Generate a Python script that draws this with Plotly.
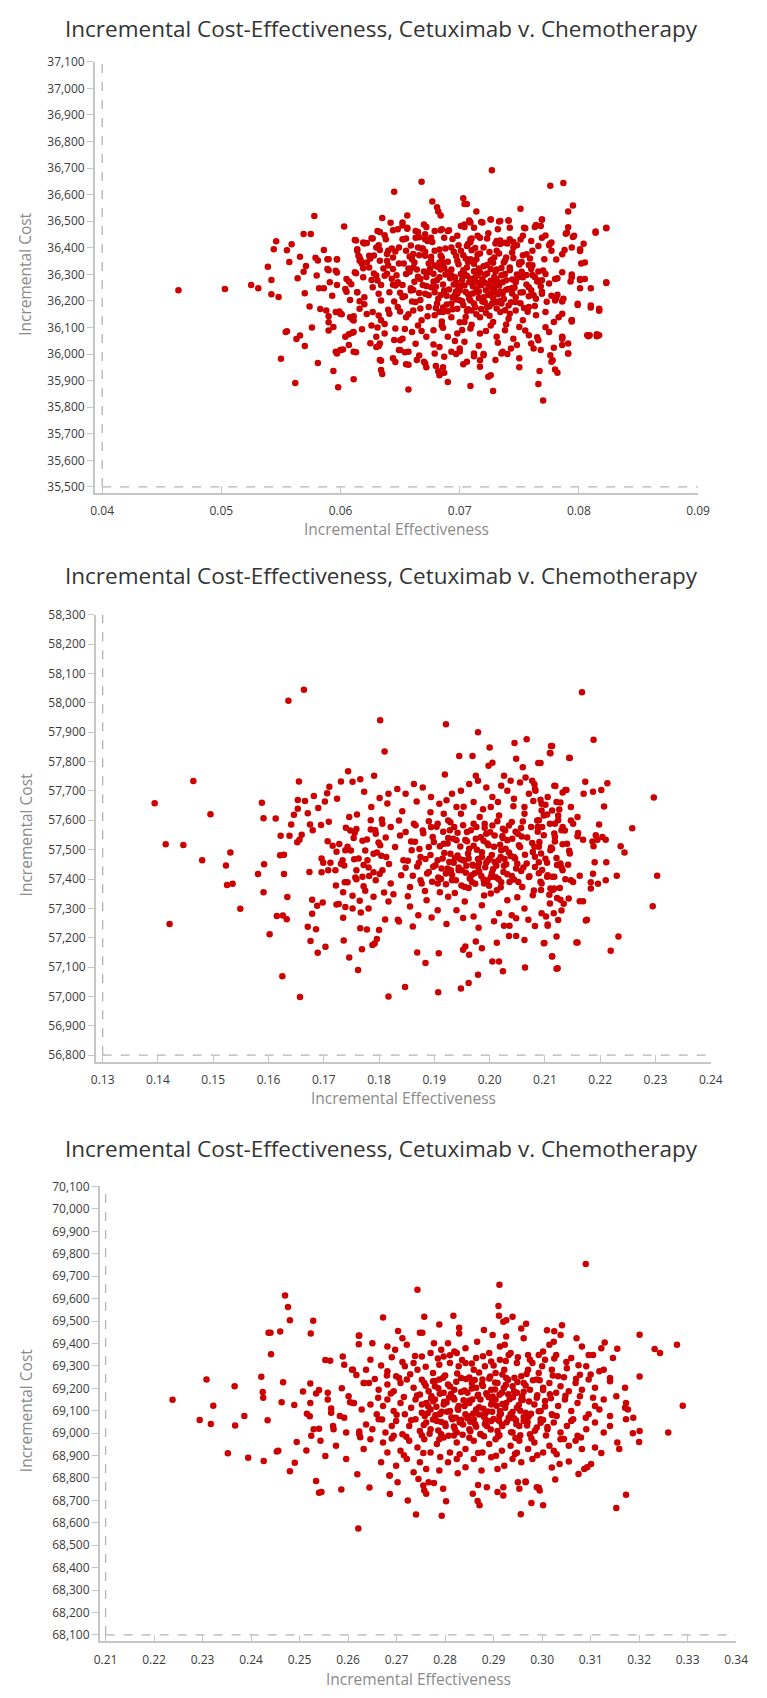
import plotly.graph_objects as go

W, H = 767, 1698
TITLE = "Incremental Cost-Effectiveness, Cetuximab v. Chemotherapy"
X_LABEL = "Incremental Effectiveness"
Y_LABEL = "Incremental Cost"

# ---------------- data ----------------
eff_ticks_1 = [0.04, 0.05, 0.06, 0.07, 0.08, 0.09]
cost_ticks_1 = [35500, 35600, 35700, 35800, 35900, 36000, 36100, 36200, 36300,
                36400, 36500, 36600, 36700, 36800, 36900, 37000, 37100]
eff_ticks_2 = [0.13, 0.14, 0.15, 0.16, 0.17, 0.18, 0.19, 0.20, 0.21, 0.22, 0.23, 0.24]
cost_ticks_2 = [56800, 56900, 57000, 57100, 57200, 57300, 57400, 57500, 57600,
                57700, 57800, 57900, 58000, 58100, 58200, 58300]
eff_ticks_3 = [0.21, 0.22, 0.23, 0.24, 0.25, 0.26, 0.27, 0.28, 0.29, 0.30,
               0.31, 0.32, 0.33, 0.34]
cost_ticks_3 = [68100, 68200, 68300, 68400, 68500, 68600, 68700, 68800, 68900,
                69000, 69100, 69200, 69300, 69400, 69500, 69600, 69700, 69800,
                69900, 70000, 70100]

# panel 1: (incremental effectiveness, incremental cost)
pts1 = [
    (0.0464,36240),(0.0503,36245),(0.0525,36260),(0.0531,36248),(0.0539,36329),(0.0542,36279),
    (0.0542,36225),(0.0548,36215),(0.0544,36395),(0.0546,36425),(0.0554,36083),(0.0555,36391),
    (0.0557,36347),(0.0559,36413),(0.0564,36285),(0.0566,36366),(0.0569,36452),(0.0575,36452),
    (0.0569,36310),(0.0570,36229),(0.0571,36332),(0.0574,36179),(0.0578,36520),(0.0579,36363),
    (0.0581,36352),(0.0580,36296),(0.0582,36248),(0.0586,36248),(0.0583,36170),(0.0588,36164),
    (0.0590,36142),(0.0586,36392),(0.0589,36357),(0.0590,36316),(0.0591,36270),(0.0597,36356),
    (0.0597,36307),(0.0597,36260),(0.0599,36160),(0.0601,36150),(0.0603,36480),(0.0605,36235),
    (0.0607,36273),(0.0608,36204),(0.0610,36138),(0.0611,36126),(0.0613,36428),(0.0614,36395),
    (0.0616,36365),(0.0617,36352),(0.0618,36340),(0.0613,36304),(0.0614,36233),(0.0620,36188),
    (0.0620,36416),(0.0625,36360),(0.0627,36435),(0.0628,36303),(0.0630,36296),(0.0632,36410),
    (0.0633,36392),(0.0633,36460),(0.0635,36512),(0.0634,36260),(0.0636,36322),(0.0639,36377),
    (0.0639,36350),(0.0640,36333),(0.0642,36494),(0.0643,36397),(0.0645,36611),(0.0644,36466),
    (0.0645,36198),(0.0647,36297),(0.0648,36266),(0.0650,36160),(0.0652,36484),(0.0652,36432),
    (0.0652,36260),(0.0655,36435),(0.0656,36472),(0.0656,36522),(0.0657,36322),(0.0659,36248),
    (0.0660,36198),(0.0665,36460),(0.0666,36440),(0.0666,36372),(0.0665,36291),(0.0668,36649),
    (0.0668,36397),(0.0671,36385),(0.0672,36478),(0.0674,36341),(0.0677,36574),(0.0677,36422),
    (0.0678,36273),(0.0680,36173),(0.0681,36553),(0.0682,36537),(0.0682,36329),(0.0684,36466),
    (0.0684,36522),(0.0685,36123),(0.0688,36397),(0.0691,36466),(0.0693,36297),(0.0696,36223),
    (0.0699,36410),(0.0700,36248),(0.0703,36587),(0.0704,36565),(0.0704,36478),(0.0705,36360),
    (0.0708,36503),(0.0710,36435),
    (0.0727,36692),(0.0776,36634),(0.0787,36644),(0.0795,36559),(0.0791,36537),(0.0751,36547),
    (0.0714,36537),(0.0706,36565),(0.0814,36457),(0.0823,36474),(0.0791,36477),(0.0789,36453),
    (0.0795,36441),(0.0804,36415),(0.0801,36388),(0.0788,36392),(0.0802,36341),(0.0794,36300),
    (0.0823,36268),(0.0801,36279),(0.0805,36283),(0.0793,36273),(0.0801,36248),(0.0810,36248),
    (0.0799,36185),(0.0810,36175),(0.0817,36163),(0.0794,36123),(0.0808,36067),(0.0815,36067),
    (0.0786,36058),(0.0769,36507),(0.0768,36482),(0.0763,36478),(0.0755,36474),(0.0741,36503),
    (0.0733,36499),(0.0726,36507),(0.0718,36497),(0.0782,36285),(0.0776,36416),(0.0775,36410),
    (0.0782,36223),(0.0781,36210),(0.0786,36198),(0.0775,36266),(0.0769,36235),(0.0765,36273),
    (0.0761,36298),(0.0758,36335),(0.0753,36372),(0.0748,36410),(0.0745,36422),(0.0740,36416),
    (0.0734,36428),(0.0730,36416),(0.0723,36435),(0.0715,36445),(0.0709,36422),
    (0.0550,35982),(0.0555,36086),(0.0562,35891),(0.0563,36057),(0.0566,36070),(0.0570,36030),
    (0.0581,35966),(0.0576,36100),(0.0590,36120),(0.0590,36089),(0.0594,35936),(0.0598,35875),
    (0.0597,36002),(0.0600,36015),(0.0602,36017),(0.0600,36152),(0.0607,36034),(0.0607,36075),
    (0.0610,36080),(0.0611,35905),(0.0613,36007),(0.0610,36130),(0.0611,36142),(0.0631,36100),
    (0.0632,36145),(0.0632,36030),(0.0633,36040),(0.0634,35940),(0.0635,35925),(0.0634,35975),
    (0.0646,35970),(0.0650,36052),(0.0650,36015),(0.0654,36007),(0.0655,35962),(0.0657,35960),
    (0.0657,35867),(0.0666,35995),(0.0671,35965),(0.0672,35950),(0.0680,35955),(0.0682,35935),
    (0.0683,35920),(0.0686,35950),(0.0687,35930),(0.0690,35895),(0.0697,36000),(0.0700,36010),
    (0.0703,35962),(0.0709,35880),(0.0712,35992),(0.0717,35952),(0.0717,35977),(0.0720,36000),
    (0.0724,35915),(0.0726,35920),(0.0728,35861),(0.0735,36002),(0.0740,36000),(0.0750,35950),
    (0.0762,36021),(0.0766,35887),(0.0767,35936),(0.0770,35825),(0.0776,35996),(0.0778,35977),
    (0.0780,35942),(0.0782,35930),(0.0786,36034),(0.0786,36062),(0.0791,36002),(0.0794,36127),
    (0.0809,36071),(0.0817,36071),(0.0817,36167),
    (0.0612,36429),(0.0619,36420),(0.0626,36436),(0.0631,36463),(0.0638,36432),(0.0648,36470),
    (0.0652,36495),(0.0656,36476),(0.0653,36432),(0.0663,36463),(0.0663,36438),(0.0670,36488),
    (0.0671,36451),(0.0671,36432),(0.0676,36438),(0.0679,36463),(0.0685,36470),(0.0687,36438),
    (0.0690,36463),(0.0698,36445),(0.0701,36482),(0.0704,36488),(0.0709,36495),(0.0709,36432),
    (0.0712,36476),(0.0717,36438),(0.0719,36495),(0.0726,36507),(0.0731,36426),(0.0732,36470),
    (0.0734,36501),(0.0741,36503),(0.0742,36476),(0.0742,36432),(0.0753,36445),(0.0754,36476),
    (0.0760,36426),(0.0764,36486),(0.0769,36507),(0.0769,36438),(0.0777,36420),(0.0790,36457),
    (0.0796,36445),(0.0814,36461),(0.0823,36476),
    (0.0590,36357),(0.0597,36357),(0.0614,36389),(0.0615,36370),(0.0616,36351),(0.0622,36345),
    (0.0624,36370),(0.0630,36401),(0.0633,36351),(0.0640,36389),(0.0644,36364),(0.0649,36401),
    (0.0655,36389),(0.0660,36357),(0.0665,36401),(0.0671,36370),(0.0676,36351),(0.0679,36389),
    (0.0683,36345),(0.0685,36364),(0.0693,36401),(0.0698,36351),(0.0701,36389),(0.0706,36407),
    (0.0709,36357),(0.0715,36376),(0.0720,36401),(0.0726,36351),(0.0731,36389),(0.0734,36414),
    (0.0739,36364),(0.0745,36401),(0.0750,36345),(0.0756,36376),(0.0761,36389),(0.0766,36407),
    (0.0771,36357),(0.0777,36389),(0.0786,36376),(0.0794,36401),(0.0801,36395),(0.0805,36345),
    (0.0589,36320),(0.0596,36314),(0.0605,36283),(0.0612,36308),(0.0619,36289),(0.0624,36326),
    (0.0631,36277),(0.0637,36295),(0.0644,36320),(0.0648,36270),(0.0655,36301),(0.0661,36326),
    (0.0667,36283),(0.0674,36308),(0.0679,36333),(0.0683,36289),(0.0690,36308),(0.0697,36270),
    (0.0701,36301),(0.0706,36326),(0.0713,36289),(0.0717,36308),(0.0720,36270),(0.0726,36320),
    (0.0731,36283),(0.0738,36301),(0.0742,36326),(0.0747,36270),(0.0753,36289),(0.0760,36320),
    (0.0766,36277),(0.0772,36301),(0.0780,36283),(0.0786,36308),(0.0794,36289),(0.0801,36283),
    (0.0823,36270),
    (0.0593,36220),(0.0604,36245),(0.0614,36233),(0.0620,36214),(0.0627,36252),(0.0634,36202),
    (0.0641,36233),(0.0646,36258),(0.0652,36214),(0.0659,36239),(0.0663,36196),(0.0671,36227),
    (0.0676,36252),(0.0682,36208),(0.0687,36239),(0.0694,36214),(0.0700,36239),(0.0704,36258),
    (0.0709,36202),(0.0715,36233),(0.0720,36214),(0.0726,36252),(0.0731,36196),(0.0736,36227),
    (0.0741,36245),(0.0747,36214),(0.0753,36233),(0.0758,36252),(0.0764,36208),(0.0769,36227),
    (0.0777,36220),(0.0780,36202),(0.0787,36208),(0.0799,36189),(0.0810,36183),(0.0817,36171),
    (0.0596,36158),(0.0600,36152),(0.0608,36139),(0.0616,36171),(0.0627,36158),(0.0634,36127),
    (0.0641,36152),(0.0648,36177),(0.0655,36139),(0.0661,36164),(0.0668,36127),(0.0674,36177),
    (0.0679,36146),(0.0686,36158),(0.0693,36139),(0.0698,36171),(0.0704,36121),(0.0710,36164),
    (0.0717,36139),(0.0723,36177),(0.0728,36121),(0.0734,36158),(0.0741,36133),(0.0747,36164),
    (0.0753,36127),(0.0758,36177),(0.0764,36146),(0.0772,36158),(0.0779,36121),(0.0786,36152),
    (0.0794,36127),
    (0.0594,36102),(0.0604,36065),(0.0611,36083),(0.0626,36108),(0.0630,36065),(0.0637,36077),
    (0.0646,36096),(0.0652,36058),(0.0660,36083),(0.0665,36108),(0.0672,36065),(0.0678,36090),
    (0.0685,36108),(0.0690,36065),(0.0698,36077),(0.0704,36046),(0.0709,36096),(0.0717,36077),
    (0.0726,36108),(0.0731,36065),(0.0738,36090),(0.0745,36058),(0.0750,36102),(0.0758,36071),
    (0.0766,36052),(0.0775,36083),(0.0786,36065),(0.0791,36040),(0.0807,36071),(0.0815,36075),
    (0.0596,36009),(0.0600,36015),(0.0611,36009),(0.0630,36027),(0.0633,35978),(0.0644,35984),
    (0.0649,36015),(0.0657,36009),(0.0664,35978),(0.0670,35971),(0.0679,36002),(0.0683,36027),
    (0.0687,35990),(0.0693,36009),(0.0700,36021),(0.0706,35971),(0.0712,36002),(0.0720,35996),
    (0.0730,35978),(0.0736,36009),(0.0743,36021),(0.0750,35984),(0.0760,36040),(0.0768,36015),
    (0.0777,35971),(0.0791,36002),
    (0.0681,36330),(0.0684,36318),(0.0688,36300),(0.0692,36285),(0.0695,36262),(0.0699,36250),
    (0.0702,36280),(0.0706,36295),(0.0708,36270),(0.0711,36255),(0.0714,36245),(0.0716,36268),
    (0.0719,36282),(0.0722,36240),(0.0724,36262),(0.0727,36230),(0.0729,36290),(0.0733,36258),
    (0.0736,36270),(0.0739,36242),(0.0744,36228),(0.0746,36250),(0.0681,36190),(0.0686,36175),
    (0.0689,36220),(0.0693,36190),(0.0697,36205),(0.0703,36185),(0.0707,36225),(0.0712,36190),
    (0.0718,36170),(0.0721,36195),(0.0725,36180),(0.0728,36210),(0.0732,36225),(0.0735,36190),
    (0.0738,36165),(0.0743,36195),(0.0672,36290),(0.0675,36320),(0.0669,36260),(0.0666,36230),
    (0.0662,36345),(0.0658,36310),(0.0712,36340),(0.0716,36322),(0.0723,36335),(0.0727,36355),
    (0.0731,36318),(0.0737,36345),(0.0748,36300),(0.0752,36310),(0.0756,36262),(0.0760,36240),
    (0.0763,36290),(0.0768,36255),(0.0700,36120),(0.0705,36140),(0.0710,36110),(0.0714,36150),
    (0.0622,36418),(0.0637,36447),(0.0659,36409),(0.0673,36426),(0.0694,36433),(0.0707,36414),
    (0.0724,36455),(0.0738,36419),(0.0751,36431),(0.0772,36446),(0.0628,36371),(0.0646,36386),
    (0.0661,36377),(0.0683,36394),(0.0697,36369),(0.0713,36399),(0.0729,36364),(0.0744,36382),
    (0.0759,36360),(0.0781,36356),(0.0619,36323),(0.0639,36302),(0.0653,36341),(0.0670,36311),
    (0.0686,36344),(0.0703,36316),(0.0721,36299),(0.0735,36324),(0.0750,36337),(0.0770,36315),
    (0.0609,36263),(0.0626,36279),(0.0644,36261),(0.0662,36272),(0.0680,36253),(0.0697,36236),
    (0.0713,36273),(0.0730,36263),(0.0744,36281),(0.0762,36221),(0.0616,36199),(0.0632,36227),
    (0.0650,36231),(0.0667,36204),(0.0684,36222),(0.0700,36203),(0.0716,36211),(0.0734,36200),
    (0.0751,36191),(0.0773,36197),(0.0622,36151),(0.0640,36167),(0.0657,36150),(0.0673,36142),
    (0.0690,36161),(0.0707,36169),(0.0725,36144),(0.0742,36152),(0.0757,36159),(0.0783,36139),
    (0.0618,36093),(0.0637,36113),(0.0654,36094),(0.0668,36087),(0.0686,36099),(0.0702,36091),
    (0.0722,36087),(0.0739,36111),(0.0755,36089),(0.0772,36101),(0.0625,36041),(0.0645,36053),
    (0.0663,36039),(0.0678,36036),(0.0696,36049),(0.0716,36031),(0.0732,36043),(0.0748,36034),
    (0.0765,36063),(0.0779,36024),
    (0.0643,36284),(0.0649,36341),(0.0654,36218),(0.0658,36367),(0.0661,36241),(0.0664,36318),
    (0.0667,36172),(0.0669,36397),(0.0672,36256),(0.0674,36221),(0.0676,36366),(0.0678,36302),
    (0.0679,36233),(0.0681,36279),(0.0683,36158),(0.0684,36371),(0.0686,36262),(0.0687,36325),
    (0.0689,36187),(0.0690,36348),(0.0691,36243),(0.0693,36318),(0.0694,36169),(0.0695,36385),
    (0.0696,36289),(0.0698,36227),(0.0699,36338),(0.0701,36258),(0.0702,36199),(0.0703,36372),
    (0.0704,36301),(0.0705,36234),(0.0706,36162),(0.0707,36347),(0.0708,36209),(0.0709,36284),
    (0.0710,36391),(0.0711,36228),(0.0712,36312),(0.0713,36176),(0.0714,36357),(0.0715,36296),
    (0.0716,36236),(0.0717,36379),(0.0718,36259),(0.0719,36198),(0.0720,36331),(0.0721,36268),
    (0.0722,36155),(0.0723,36303),(0.0724,36222),(0.0725,36384),(0.0726,36276),(0.0727,36189),
    (0.0728,36344),(0.0729,36242),(0.0730,36311),(0.0731,36172),(0.0732,36268),(0.0733,36379),
    (0.0734,36236),(0.0735,36297),(0.0737,36207),(0.0738,36352),(0.0739,36278),(0.0741,36183),
    (0.0742,36316),(0.0744,36249),(0.0745,36362),(0.0747,36196),(0.0749,36288),(0.0751,36232),
    (0.0752,36347),(0.0754,36173),(0.0756,36298),(0.0758,36218),(0.0761,36334),(0.0763,36181),
    (0.0766,36311),(0.0769,36278),
]

# panel 2
pts2 = [
    (0.1394,57658),(0.1464,57734),(0.1414,57518),(0.1446,57516),(0.1495,57621),(0.1480,57464),
    (0.1421,57247),(0.1531,57490),(0.1523,57446),(0.1525,57380),(0.1535,57384),(0.1549,57299),
    (0.1588,57660),(0.1591,57607),(0.1613,57606),(0.1581,57417),(0.1592,57450),(0.1591,57355),
    (0.1602,57212),(0.1615,57274),(0.1626,57276),(0.1633,57263),(0.1625,57069),(0.1657,56998),
    (0.1636,58007),(0.1664,58045),(0.1621,57481),(0.1628,57483),(0.1628,57417),(0.1634,57339),
    (0.1622,57547),(0.1638,57547),(0.1641,57586),(0.1646,57619),(0.1653,57639),(0.1653,57669),
    (0.1655,57732),(0.1666,57666),(0.1671,57624),(0.1652,57525),(0.1656,57534),(0.1660,57551),
    (0.1675,57586),(0.1680,57566),(0.1674,57424),(0.1682,57683),(0.1690,57642),(0.1695,57584),
    (0.1702,57664),(0.1706,57692),(0.1710,57714),(0.1709,57595),(0.1724,57673),(0.1731,57732),
    (0.1744,57767),(0.1752,57731),(0.1766,57740),(0.1773,57697),(0.1791,57752),(0.1802,57941),
    (0.1810,57834),(0.1786,57645),(0.1801,57676),(0.1805,57603),(0.1707,57529),(0.1716,57513),
    (0.1723,57493),(0.1696,57470),(0.1699,57455),(0.1712,57455),(0.1696,57423),(0.1708,57430),
    (0.1721,57430),(0.1731,57452),(0.1737,57446),(0.1734,57464),(0.1728,57519),(0.1739,57498),
    (0.1743,57510),(0.1749,57497),(0.1754,57540),(0.1756,57558),(0.1759,57570),(0.1740,57575),
    (0.1746,57611),(0.1722,57378),(0.1738,57389),(0.1743,57389),(0.1735,57355),(0.1752,57343),
    (0.1757,57405),(0.1759,57399),(0.1770,57408),(0.1782,57410),(0.1772,57375),(0.1775,57360),
    (0.1765,57326),(0.1767,57286),(0.1755,57467),(0.1759,57430),(0.1772,57448),(0.1781,57439),
    (0.1790,57423),(0.1775,57497),(0.1778,57535),(0.1785,57569),(0.1793,57566),(0.1796,57490),
    (0.1799,57524),(0.1804,57479),(0.1801,57417),(0.1809,57354),(0.1811,57262),(0.1679,57329),
    (0.1688,57309),(0.1698,57320),(0.1679,57282),(0.1671,57237),(0.1686,57229),(0.1676,57189),
    (0.1689,57149),(0.1703,57169),(0.1735,57268),(0.1736,57191),(0.1746,57133),(0.1762,57090),
    (0.1769,57161),(0.1766,57232),(0.1778,57228),(0.1788,57175),(0.1792,57180),(0.1796,57196),
    (0.1800,57226),(0.1723,57313),(0.1727,57315),(0.1739,57305),
    (0.2167,58036),(0.2188,57874),(0.2145,57812),(0.2113,57853),(0.2110,57828),(0.2088,57795),
    (0.2092,57795),(0.2297,57678),(0.2258,57573),(0.2303,57411),(0.2295,57307),(0.2119,57717),
    (0.2139,57703),(0.2173,57731),(0.2170,57690),(0.2187,57697),(0.2202,57703),(0.2213,57726),
    (0.2207,57647),(0.2198,57586),(0.2237,57512),(0.2244,57490),(0.2192,57549),(0.2204,57543),
    (0.2210,57534),(0.2186,57528),(0.2188,57512),(0.2195,57534),(0.2190,57457),(0.2211,57457),
    (0.2230,57411),(0.2210,57396),(0.2196,57384),(0.2187,57418),(0.2183,57389),(0.2183,57368),
    (0.2163,57411),(0.2151,57390),(0.2169,57534),(0.2160,57557),(0.2159,57546),(0.2151,57588),
    (0.2159,57611),(0.2163,57324),(0.2169,57324),(0.2176,57261),(0.2159,57184),(0.2233,57204),
    (0.2219,57156),(0.2123,57096),(0.2113,57137),(0.2099,57182),(0.2105,57245),(0.2116,57283),
    (0.2130,57293),(0.2134,57316),(0.2122,57335),(0.2128,57329),(0.2143,57334),(0.2137,57399),
    (0.2132,57518),(0.2145,57487),(0.2144,57496),(0.2142,57449),(0.2130,57440),(0.2122,57448),
    (0.2104,57408),(0.2113,57408),(0.2117,57408),(0.2104,57455),(0.2110,57498),(0.2111,57507),
    (0.2132,57577),(0.2130,57566),(0.2124,57600),(0.2118,57588),(0.2117,57555),(0.2118,57543),
    (0.2126,57637),(0.2128,57661),(0.2113,57633),(0.2104,57620),(0.2098,57616),(0.2089,57600),
    (0.2092,57670),(0.2101,57653),(0.2081,57723),(0.2083,57701),(0.2095,57577),(0.2087,57577),
    (0.2089,57510),(0.2081,57510),(0.2093,57487),(0.2095,57431),(0.2089,57420),(0.2092,57391),
    (0.2110,57368),(0.2114,57363),(0.2093,57363),(0.2127,57369),
    (0.1921,57927),(0.1979,57900),(0.1945,57819),(0.1969,57819),(0.2000,57848),(0.2045,57863),
    (0.2067,57876),(0.2111,57853),(0.2109,57829),(0.2144,57813),(0.2060,57781),(0.2048,57810),
    (0.1998,57786),(0.2005,57796),(0.1919,57756),(0.1975,57752),(0.2026,57752),(0.2038,57735),
    (0.2065,57746),(0.2077,57735),(0.2117,57718),(0.2137,57703),(0.2035,57206),(0.2064,57099),
    (0.2121,57094),(0.2024,57086),(0.2005,57119),(0.2017,57119),(0.1979,57074),(0.1962,57046),
    (0.1948,57027),(0.1907,57014),(0.1884,57114),(0.1869,57150),(0.1908,57147),(0.1817,57000),
    (0.1847,57032),(0.1952,57159),(0.1956,57170),(0.1963,57142),(0.1975,57187),(0.1986,57164),
    (0.2157,57184),(0.2174,57259),(0.2098,57181),(0.2063,57192),(0.2048,57206),(0.2013,57183),
    (0.2026,57241),(0.2036,57241),(0.2113,57136),(0.2121,57204),(0.2082,57240),(0.2105,57241),
    (0.1932,57690),(0.1948,57701),(0.1963,57724),(0.1979,57735),(0.1994,57712),(0.2005,57679),
    (0.2021,57718),(0.2032,57701),(0.2044,57673),(0.2055,57729),(0.2071,57690),(0.2082,57707),
    (0.2094,57656),(0.2105,57679),(0.2121,57662),(0.2132,57695),(0.2147,57645),(0.1940,57645),
    (0.1971,57662),(0.2002,57645),(0.2063,57645),(0.2094,57633),(0.1909,57656),(0.1917,57622),
    (0.1894,57679),(0.1879,57712),(0.1863,57724),(0.1848,57690),(0.1833,57707),(0.1817,57690),
    (0.1925,57599),(0.1936,57577),(0.1948,57622),(0.1959,57560),(0.1971,57588),(0.1982,57611),
    (0.1994,57554),(0.2005,57582),(0.2017,57616),(0.2028,57565),(0.2040,57594),(0.2051,57554),
    (0.2063,57622),(0.2075,57577),(0.2086,57599),(0.2098,57549),(0.2109,57588),(0.2124,57616),
    (0.2136,57565),(0.2147,57599),(0.1894,57577),(0.1906,57588),(0.1879,57565),(0.1863,57588),
    (0.1848,57560),(0.1836,57599),(0.1821,57577),(0.1806,57588),(0.1794,57554),
    (0.1917,57520),(0.1929,57486),(0.1940,57532),(0.1952,57464),(0.1963,57503),(0.1975,57537),
    (0.1986,57475),(0.1998,57515),(0.2009,57458),(0.2021,57498),(0.2032,57532),(0.2044,57475),
    (0.2055,57509),(0.2067,57453),(0.2078,57492),(0.2090,57526),(0.2101,57469),(0.2113,57503),
    (0.2128,57453),(0.2140,57520),(0.1906,57464),(0.1890,57509),(0.1875,57475),(0.1859,57498),
    (0.1844,57464),(0.1829,57509),(0.1813,57475),(0.1802,57515),(0.1790,57486),(0.1779,57464),
    (0.1921,57419),(0.1932,57396),(0.1944,57430),(0.1955,57373),(0.1967,57413),(0.1979,57441),
    (0.1990,57385),(0.2002,57407),(0.2013,57362),(0.2025,57424),(0.2036,57390),(0.2048,57436),
    (0.2059,57373),(0.2071,57407),(0.2082,57441),(0.2094,57385),(0.2105,57413),(0.2117,57368),
    (0.2132,57430),(0.2147,57396),(0.1906,57385),(0.1890,57424),(0.1875,57396),(0.1856,57373),
    (0.1840,57413),(0.1821,57385),(0.1806,57430),(0.1794,57396),
    (0.1925,57340),(0.1940,57294),(0.1955,57323),(0.1971,57272),(0.1986,57311),(0.2002,57351),
    (0.2017,57283),(0.2032,57328),(0.2048,57266),(0.2063,57300),(0.2078,57345),(0.2094,57283),
    (0.2109,57317),(0.2124,57260),(0.1906,57294),(0.1886,57328),(0.1871,57277),(0.1856,57306),
    (0.1836,57255),(0.1817,57323),
    (0.1935,57455),(0.1942,57480),(0.1950,57430),(0.1958,57445),(0.1962,57470),(0.1968,57390),
    (0.1973,57420),(0.1977,57500),(0.1981,57455),(0.1985,57410),(0.1989,57530),(0.1992,57440),
    (0.1996,57395),(0.2000,57470),(0.2004,57420),(0.2008,57510),(0.2012,57445),(0.2016,57400),
    (0.2020,57475),(0.2024,57540),(0.1915,57470),(0.1912,57400),(0.1925,57540),(0.1930,57430),
    (0.2030,57450),(0.2035,57490),(0.2040,57410),(0.2046,57470),(0.2052,57390),(0.2058,57545),
    (0.1815,57657),(0.1842,57631),(0.1868,57664),(0.1893,57627),(0.1922,57668),(0.1953,57646),
    (0.1988,57638),(0.2015,57662),(0.2043,57648),(0.2079,57666),(0.1812,57541),(0.1838,57548),
    (0.1865,57527),(0.1897,57543),(0.1928,57566),(0.1956,57533),(0.1991,57575),(0.2023,57546),
    (0.2057,57574),(0.2087,57561),(0.2118,57528),(0.1818,57451),(0.1848,57438),(0.1872,57455),
    (0.1898,57442),(0.1924,57436),(0.1947,57467),(0.1970,57446),(0.1997,57463),(0.2027,57468),
    (0.2061,57439),(0.2089,57457),(0.2121,57472),(0.1826,57348),(0.1852,57341),(0.1883,57359),
    (0.1910,57355),(0.1937,57352),(0.1962,57369),(0.1990,57344),(0.2020,57372),(0.2050,57338),
    (0.2080,57361),(0.2108,57346),(0.1834,57261),(0.1861,57238),(0.1895,57269),(0.1922,57247),
    (0.1952,57267),(0.1980,57234),(0.2008,57256),(0.2040,57277),(0.2070,57261),(0.2102,57272),
    (0.1760,57620),(0.1785,57600),(0.1770,57530),(0.1748,57565),(0.1763,57470),(0.1790,57340),
    (0.1781,57300),(0.1752,57300),
    (0.1852,57462),(0.1858,57528),(0.1861,57411),(0.1866,57583),(0.1869,57443),(0.1873,57502),
    (0.1877,57385),(0.1880,57556),(0.1884,57468),(0.1887,57419),(0.1890,57597),(0.1893,57482),
    (0.1896,57391),(0.1899,57526),(0.1902,57447),(0.1904,57578),(0.1907,57405),(0.1910,57512),
    (0.1913,57436),(0.1916,57561),(0.1918,57489),(0.1921,57382),(0.1924,57521),(0.1927,57458),
    (0.1929,57593),(0.1932,57414),(0.1934,57537),(0.1937,57472),(0.1939,57396),(0.1942,57558),
    (0.1944,57439),(0.1947,57511),(0.1949,57378),(0.1952,57583),(0.1954,57463),(0.1957,57421),
    (0.1959,57529),(0.1961,57487),(0.1964,57402),(0.1966,57566),(0.1969,57449),(0.1971,57513),
    (0.1974,57384),(0.1976,57577),(0.1979,57468),(0.1981,57426),(0.1984,57542),(0.1986,57491),
    (0.1989,57398),(0.1991,57588),(0.1994,57456),(0.1996,57521),(0.1999,57377),(0.2001,57559),
    (0.2004,57482),(0.2006,57433),(0.2009,57548),(0.2011,57406),(0.2014,57597),(0.2016,57464),
    (0.2019,57517),(0.2021,57389),(0.2024,57571),(0.2026,57445),(0.2029,57503),(0.2032,57416),
    (0.2035,57582),(0.2038,57478),(0.2041,57537),(0.2044,57398),(0.2047,57561),(0.2050,57452),
    (0.2053,57515),(0.2057,57427),(0.2060,57596),(0.2064,57483),(0.2068,57541),(0.2072,57409),
    (0.2077,57523),(0.2082,57476),
]

# panel 3
pts3 = [
    (0.2238,69149),(0.2294,69059),(0.2308,69239),(0.2317,69041),(0.2322,69122),(0.2352,68910),
    (0.2366,69209),(0.2367,69034),(0.2386,69076),(0.2394,68890),(0.2421,69251),(0.2424,69183),
    (0.2425,69158),(0.2426,68876),(0.2434,69057),(0.2436,69448),(0.2440,69448),(0.2441,69352),
    (0.2453,68918),(0.2456,68921),(0.2460,69453),(0.2466,69227),(0.2463,69138),(0.2470,69614),
    (0.2476,69563),(0.2480,69504),(0.2480,68830),(0.2489,69125),(0.2490,68868),(0.2494,68961),
    (0.2507,69186),(0.2514,68923),(0.2515,69087),(0.2521,69075),(0.2522,69221),(0.2522,69135),
    (0.2523,69444),(0.2528,69501),(0.2524,68988),(0.2529,69017),(0.2534,68787),(0.2534,69177),
    (0.2540,69192),(0.2540,69020),(0.2543,68966),(0.2540,68734),(0.2545,68737),(0.2553,69326),
    (0.2553,68898),(0.2558,69180),(0.2558,69150),(0.2563,69323),(0.2565,69110),(0.2565,69091),
    (0.2569,69032),(0.2570,69017),(0.2575,68944),(0.2586,68749),(0.2587,69200),(0.2589,69342),
    (0.2596,68885),(0.2604,69138),(0.2612,69135),(0.2608,69283),(0.2617,69259),(0.2619,68817),
    (0.2621,68575),(0.2622,69434),(0.2622,69397),(0.2623,69007),(0.2625,68982),(0.2633,69224),
    (0.2644,68758),(0.2686,68728),(0.2685,68811),(0.2702,68781),(0.2723,68700),(0.2740,68637),
    (0.2743,69640),(0.2753,69448),(0.2745,68795),(0.2755,68766),(0.2757,68744),(0.2761,68730),
    (0.2766,68781),(0.2777,68778),(0.2796,68752),(0.2793,68631),(0.2802,68696),(0.2826,68821),
    (0.2857,68730),(0.2867,68697),(0.2871,68678),(0.2868,68769),(0.2886,68759),(0.2910,69567),
    (0.2912,69662),(0.2911,69524),(0.2908,68737),(0.2920,68722),(0.2920,68759),(0.2920,69497),
    (0.2926,69504),(0.2939,69519),(0.2956,68638),(0.2950,68781),(0.2953,68752),(0.2966,68784),
    (0.2967,69488),(0.2978,68688),(0.2993,68756),(0.2995,68744),(0.3002,68678),(0.3020,68847),
    (0.3027,68793),(0.3036,68862),(0.3055,68873),(0.3075,68818),(0.3090,69755),(0.3087,68840),
    (0.3093,68848),(0.3101,68862),(0.3122,68911),(0.3146,69335),(0.3153,68666),(0.3173,68725),
    (0.3201,69439),(0.3201,69253),(0.3187,69000),(0.3201,69009),(0.3200,68961),(0.3232,69375),
    (0.3243,69357),(0.3260,69003),(0.3278,69394),(0.3290,69122),(0.3171,69202),(0.3173,69135),
    (0.3177,69106),(0.3173,69062),(0.3188,69069),(0.3155,68958),(0.3159,68929),
    (0.2623,69435),(0.2650,69401),(0.2672,69516),(0.2681,69386),(0.2697,69372),(0.2703,69456),
    (0.2712,69423),(0.2721,69394),(0.2748,69448),(0.2757,69519),(0.2770,69357),(0.2777,69401),
    (0.2788,69485),(0.2792,69372),(0.2806,69401),(0.2817,69524),(0.2824,69357),(0.2829,69470),
    (0.2829,69445),(0.2842,69379),(0.2866,69408),(0.2880,69460),(0.2891,69357),(0.2898,69438),
    (0.2913,69386),(0.2923,69394),(0.2926,69431),(0.2935,69357),(0.2957,69467),(0.2962,69423),
    (0.2971,69349),(0.2993,69349),(0.3002,69364),(0.3010,69459),(0.3015,69394),(0.3024,69408),
    (0.3025,69454),(0.3029,69349),(0.3038,69438),(0.3041,69481),(0.3071,69423),(0.3082,69386),
    (0.3096,69349),(0.3105,69349),(0.3122,69379),(0.3129,69404),(0.3155,69376),
    (0.2592,69305),(0.2610,69283),(0.2637,69283),(0.2646,69327),(0.2681,69276),(0.2699,69254),
    (0.2717,69298),(0.2735,69313),(0.2743,69283),(0.2752,69342),(0.2775,69268),(0.2788,69305),
    (0.2797,69342),(0.2810,69313),(0.2819,69364),(0.2828,69298),(0.2842,69313),(0.2859,69283),
    (0.2864,69335),(0.2882,69298),(0.2895,69320),(0.2904,69268),(0.2913,69327),(0.2922,69283),
    (0.2931,69349),(0.2948,69313),(0.2957,69254),(0.2971,69283),(0.2980,69313),(0.2993,69268),
    (0.3006,69327),(0.3020,69283),(0.3033,69254),(0.3051,69290),(0.3060,69335),(0.3078,69261),
    (0.3091,69298),(0.3118,69276),(0.3127,69283),(0.3140,69246),
    (0.2601,69165),(0.2632,69224),(0.2643,69224),(0.2663,69194),(0.2681,69217),(0.2694,69187),
    (0.2708,69224),(0.2721,69239),(0.2735,69202),(0.2748,69172),(0.2757,69224),(0.2766,69187),
    (0.2779,69209),(0.2788,69239),(0.2797,69180),(0.2806,69217),(0.2819,69194),(0.2833,69246),
    (0.2846,69180),(0.2855,69224),(0.2864,69202),(0.2877,69239),(0.2886,69172),(0.2895,69194),
    (0.2908,69224),(0.2917,69180),(0.2926,69246),(0.2939,69209),(0.2948,69180),(0.2962,69224),
    (0.2975,69194),(0.2989,69239),(0.3002,69202),(0.3015,69224),(0.3029,69180),(0.3038,69209),
    (0.3055,69187),(0.3069,69224),(0.3082,69194),(0.3096,69239),(0.3109,69202),(0.3127,69150),
    (0.3140,69231),(0.3153,69165),
    (0.2583,69076),(0.2592,69069),(0.2610,69135),(0.2628,69106),(0.2646,69128),(0.2659,69084),
    (0.2672,69121),(0.2681,69150),(0.2694,69099),(0.2708,69135),(0.2717,69084),(0.2730,69113),
    (0.2739,69150),(0.2752,69091),(0.2761,69135),(0.2770,69106),(0.2779,69150),(0.2788,69084),
    (0.2797,69128),(0.2810,69099),(0.2819,69150),(0.2828,69121),(0.2842,69084),(0.2850,69135),
    (0.2864,69106),(0.2873,69150),(0.2882,69084),(0.2895,69128),(0.2904,69150),(0.2913,69099),
    (0.2926,69135),(0.2935,69084),(0.2948,69113),(0.2957,69150),(0.2966,69091),(0.2984,69128),
    (0.2997,69099),(0.3006,69143),(0.3020,69084),(0.3033,69121),(0.3047,69150),(0.3060,69099),
    (0.3073,69135),(0.3096,69084),(0.3109,69121),(0.3118,69106),(0.3140,69076),(0.3171,69113),
    (0.2596,69003),(0.2623,68995),(0.2637,69039),(0.2650,69017),(0.2663,69062),(0.2677,69003),
    (0.2690,69032),(0.2699,69054),(0.2712,68995),(0.2726,69032),(0.2739,69062),(0.2748,69010),
    (0.2761,69047),(0.2770,69017),(0.2783,69054),(0.2792,68995),(0.2801,69032),(0.2815,69062),
    (0.2824,69003),(0.2837,69039),(0.2850,69017),(0.2859,69062),(0.2873,68995),(0.2886,69032),
    (0.2895,69054),(0.2908,69010),(0.2917,69039),(0.2931,69069),(0.2939,69003),(0.2953,69032),
    (0.2962,69054),(0.2975,68995),(0.2989,69025),(0.2997,69062),(0.3011,69017),(0.3024,69047),
    (0.3038,69003),(0.3051,69032),(0.3064,69062),(0.3073,68988),(0.3091,69017),(0.3109,69047),
    (0.3127,69003),(0.3140,69032),
    (0.2632,68929),(0.2646,68973),(0.2672,68958),(0.2681,68914),(0.2694,68988),(0.2708,68921),
    (0.2726,68966),(0.2743,68936),(0.2757,68973),(0.2770,68914),(0.2783,68951),(0.2797,68980),
    (0.2810,68914),(0.2824,68958),(0.2842,68929),(0.2859,68966),(0.2877,68914),(0.2891,68951),
    (0.2904,68973),(0.2917,68921),(0.2935,68944),(0.2944,68907),(0.2953,68966),(0.2971,68929),
    (0.2984,68958),(0.3002,68914),(0.3015,68944),(0.3024,68921),(0.3038,68973),(0.3055,68944),
    (0.3069,68966),(0.3082,68929),(0.3109,68936),
    (0.2668,68870),(0.2686,68811),(0.2699,68855),(0.2721,68885),(0.2735,68825),(0.2748,68870),
    (0.2761,68840),(0.2788,68833),(0.2806,68870),(0.2824,68885),(0.2842,68848),(0.2859,68885),
    (0.2875,68833),(0.2895,68892),(0.2908,68840),(0.2922,68855),(0.2939,68885),(0.2957,68870),
    (0.2980,68885),(0.2966,68781),(0.2989,68759),
    (0.2765,69120),(0.2772,69165),(0.2780,69080),(0.2786,69200),(0.2792,69050),(0.2798,69140),
    (0.2804,69095),(0.2812,69175),(0.2818,69030),(0.2826,69110),(0.2833,69060),(0.2840,69190),
    (0.2848,69075),(0.2856,69150),(0.2862,69040),(0.2870,69115),(0.2878,69210),(0.2884,69060),
    (0.2890,69160),(0.2897,69095),(0.2903,69195),(0.2911,69055),(0.2918,69130),(0.2925,69215),
    (0.2932,69065),(0.2940,69160),(0.2947,69040),(0.2955,69100),(0.2962,69185),(0.2970,69050),
    (0.2668,69302),(0.2690,69338),(0.2712,69317),(0.2738,69344),(0.2760,69296),(0.2785,69333),
    (0.2810,69348),(0.2835,69326),(0.2855,69311),(0.2878,69343),(0.2900,69302),(0.2925,69322),
    (0.2950,69339),(0.2975,69327),(0.3000,69298),(0.3025,69333),(0.3050,69317),(0.3075,69303),
    (0.2655,69242),(0.2680,69257),(0.2705,69246),(0.2728,69263),(0.2752,69238),(0.2775,69231),
    (0.2800,69257),(0.2825,69266),(0.2850,69248),(0.2870,69270),(0.2893,69253),(0.2918,69262),
    (0.2943,69247),(0.2968,69264),(0.2995,69236),(0.3022,69257),(0.3045,69249),(0.3070,69243),
    (0.3100,69262),(0.2662,69158),(0.2688,69177),(0.2715,69161),(0.2742,69168),(0.2775,69142),
    (0.2808,69159),(0.2838,69147),(0.2868,69171),(0.2898,69163),(0.2930,69173),(0.2960,69148),
    (0.2990,69169),(0.3018,69156),(0.3048,69167),(0.3078,69164),(0.3105,69158),(0.2670,69061),
    (0.2700,69082),(0.2730,69058),(0.2758,69077),(0.2790,69086),(0.2822,69069),(0.2852,69051),
    (0.2880,69073),(0.2912,69078),(0.2942,69066),(0.2972,69074),(0.3002,69059),(0.3030,69076),
    (0.3060,69054),(0.3090,69069),(0.2690,68976),(0.2720,68984),(0.2752,68991),(0.2788,68973),
    (0.2818,68989),(0.2850,68979),(0.2880,68986),(0.2912,68991),(0.2945,68978),(0.2978,68976),
    (0.3008,68989),(0.3045,68974),(0.3080,68981),(0.2715,68901),(0.2755,68911),(0.2790,68894),
    (0.2830,68906),(0.2868,68911),(0.2905,68899),(0.2948,68913),(0.2990,68901),(0.3030,68906),
    (0.2752,69128),(0.2756,69036),(0.2760,69211),(0.2764,69089),(0.2768,68997),(0.2771,69154),
    (0.2775,69061),(0.2779,69233),(0.2782,69118),(0.2786,69012),(0.2789,69176),(0.2793,69095),
    (0.2796,69247),(0.2800,69043),(0.2803,69137),(0.2807,68988),(0.2810,69208),(0.2813,69071),
    (0.2817,69158),(0.2820,69019),(0.2823,69229),(0.2827,69104),(0.2830,69047),(0.2833,69183),
    (0.2836,68993),(0.2840,69121),(0.2843,69241),(0.2846,69066),(0.2849,69145),(0.2852,69008),
    (0.2855,69199),(0.2858,69088),(0.2861,69237),(0.2864,69029),(0.2867,69166),(0.2870,69083),
    (0.2873,68996),(0.2876,69219),(0.2879,69109),(0.2882,69041),(0.2885,69178),(0.2888,69097),
    (0.2891,69244),(0.2894,69016),(0.2897,69139),(0.2900,69063),(0.2903,69226),(0.2906,69122),
    (0.2909,68985),(0.2912,69171),(0.2915,69087),(0.2918,69032),(0.2921,69201),(0.2924,69113),
    (0.2927,69049),(0.2930,69238),(0.2933,69151),(0.2936,69004),(0.2939,69094),(0.2942,69187),
    (0.2946,69058),(0.2949,69228),(0.2952,69126),(0.2955,68991),(0.2959,69164),(0.2962,69072),
    (0.2966,69213),(0.2969,69034),(0.2973,69141),(0.2977,69086),(0.2981,69236),(0.2985,69011),
    (0.2989,69158),(0.2993,69098),(0.2997,69046),(0.3002,69192),(0.3006,69119),(0.3011,69027),
    (0.3016,69174),(0.3021,69081),
]

# ---------------- layout geometry (pixels in the 767x1698 page) ----------------
panels = [
    dict(pts=pts1, xt=eff_ticks_1, yt=cost_ticks_1, left=91, x0=98.5, x1=709,
         top=53, y0=481, bottom=487, title_y=20, xlab_y=523),
    dict(pts=pts2, xt=eff_ticks_2, yt=cost_ticks_2, left=92, x0=99, x1=722,
         top=609.5, y0=1053, bottom=1060, title_y=570, xlab_y=1096),
    dict(pts=pts3, xt=eff_ticks_3, yt=cost_ticks_3, left=96, x0=102, x1=748,
         top=1185, y0=1636.5, bottom=1643, title_y=1147, xlab_y=1681),
]

FONT = "Open Sans"
AXIS_COLOR = "#c6c6c6"
DASH_COLOR = "#b4b4b4"
DOT_COLOR = "#cc0000"

fig = go.Figure()
shapes, annotations = [], []
layout_axes = {}

for i, p in enumerate(panels, start=1):
    xs = [a for a, _ in p["pts"]]
    ys = [b for _, b in p["pts"]]
    xmin, xmax = p["xt"][0], p["xt"][-1]
    ymin, ymax = p["yt"][0], p["yt"][-1]
    xlo = xmin - (p["x0"] - p["left"]) / (p["x1"] - p["x0"]) * (xmax - xmin)
    ylo = ymin - (p["bottom"] - p["y0"]) / (p["y0"] - p["top"]) * (ymax - ymin)
    xhi = xmax + (xmax - xmin) * 0.0005
    yhi = ymax + (ymax - ymin) * 0.0005
    sx = "" if i == 1 else str(i)
    xa, ya = "x" + sx, "y" + sx

    fig.add_trace(go.Scatter(
        x=xs, y=ys, mode="markers", xaxis=xa, yaxis=ya, showlegend=False,
        marker=dict(color=DOT_COLOR, size=6.5, line=dict(width=0)),
        hoverinfo="skip"))

    layout_axes["xaxis" + sx] = dict(
        domain=[p["left"] / W, p["x1"] / W], range=[xlo, xhi], anchor=ya,
        tickvals=p["xt"], tickformat=".2f", showgrid=False, zeroline=False,
        showline=True, linecolor=AXIS_COLOR, linewidth=1.5,
        ticks="inside", ticklen=7, tickwidth=1.2, tickcolor=AXIS_COLOR,
        ticklabelstandoff=6,
        tickfont=dict(family=FONT, size=12, color="#3a3a3a"), fixedrange=True)
    layout_axes["yaxis" + sx] = dict(
        domain=[1 - p["bottom"] / H, 1 - p["top"] / H], range=[ylo, yhi], anchor=xa,
        tickvals=p["yt"], tickformat=",d", showgrid=False, zeroline=False,
        showline=True, linecolor=AXIS_COLOR, linewidth=1.5,
        ticks="outside", ticklen=6, tickwidth=1.2, tickcolor=AXIS_COLOR,
        tickfont=dict(family=FONT, size=12, color="#3a3a3a"), fixedrange=True)

    shapes.append(dict(type="line", xref=xa, yref=ya, x0=xmin, x1=xmin, y0=ymin, y1=ymax,
                       layer="below", line=dict(color=DASH_COLOR, width=1.3, dash="dash")))
    shapes.append(dict(type="line", xref=xa, yref=ya, x0=xmin, x1=xmax, y0=ymin, y1=ymin,
                       layer="below", line=dict(color=DASH_COLOR, width=1.3, dash="dash")))

    annotations.append(dict(text=TITLE, xref="paper", yref="paper", x=385 / W,
                            y=1 - p["title_y"] / H, xanchor="center", yanchor="middle",
                            showarrow=False, font=dict(family=FONT, size=22.5, color="#333333")))
    annotations.append(dict(text=X_LABEL, xref="paper", yref="paper",
                            x=((p["left"] + p["x1"]) / 2) / W, y=1 - p["xlab_y"] / H,
                            xanchor="center", yanchor="middle", showarrow=False,
                            font=dict(family=FONT, size=15.5, color="#8a8a8a")))
    annotations.append(dict(text=Y_LABEL, xref="paper", yref="paper", x=20 / W,
                            y=1 - ((p["top"] + p["y0"]) / 2) / H, textangle=-90,
                            xanchor="center", yanchor="middle", showarrow=False,
                            font=dict(family=FONT, size=15.5, color="#8a8a8a")))

fig.update_layout(
    autosize=True, margin=dict(l=0, r=0, t=0, b=0, pad=0),
    paper_bgcolor="white", plot_bgcolor="white",
    font=dict(family=FONT, color="#333333"),
    shapes=shapes, annotations=annotations, showlegend=False,
    **layout_axes)

# the figure fills the browser viewport (767x1698)
fig.write_html("out.html", config={"displayModeBar": False, "responsive": True},
               default_width="100vw", default_height="100vh")

# remove the browser's default page margin so the figure sits at the page origin
with open("out.html", "r", encoding="utf-8") as fh:
    html = fh.read()
html = html.replace("<head>", "<head><style>html,body{margin:0;padding:0;overflow:hidden;}</style>", 1)
with open("out.html", "w", encoding="utf-8") as fh:
    fh.write(html)
